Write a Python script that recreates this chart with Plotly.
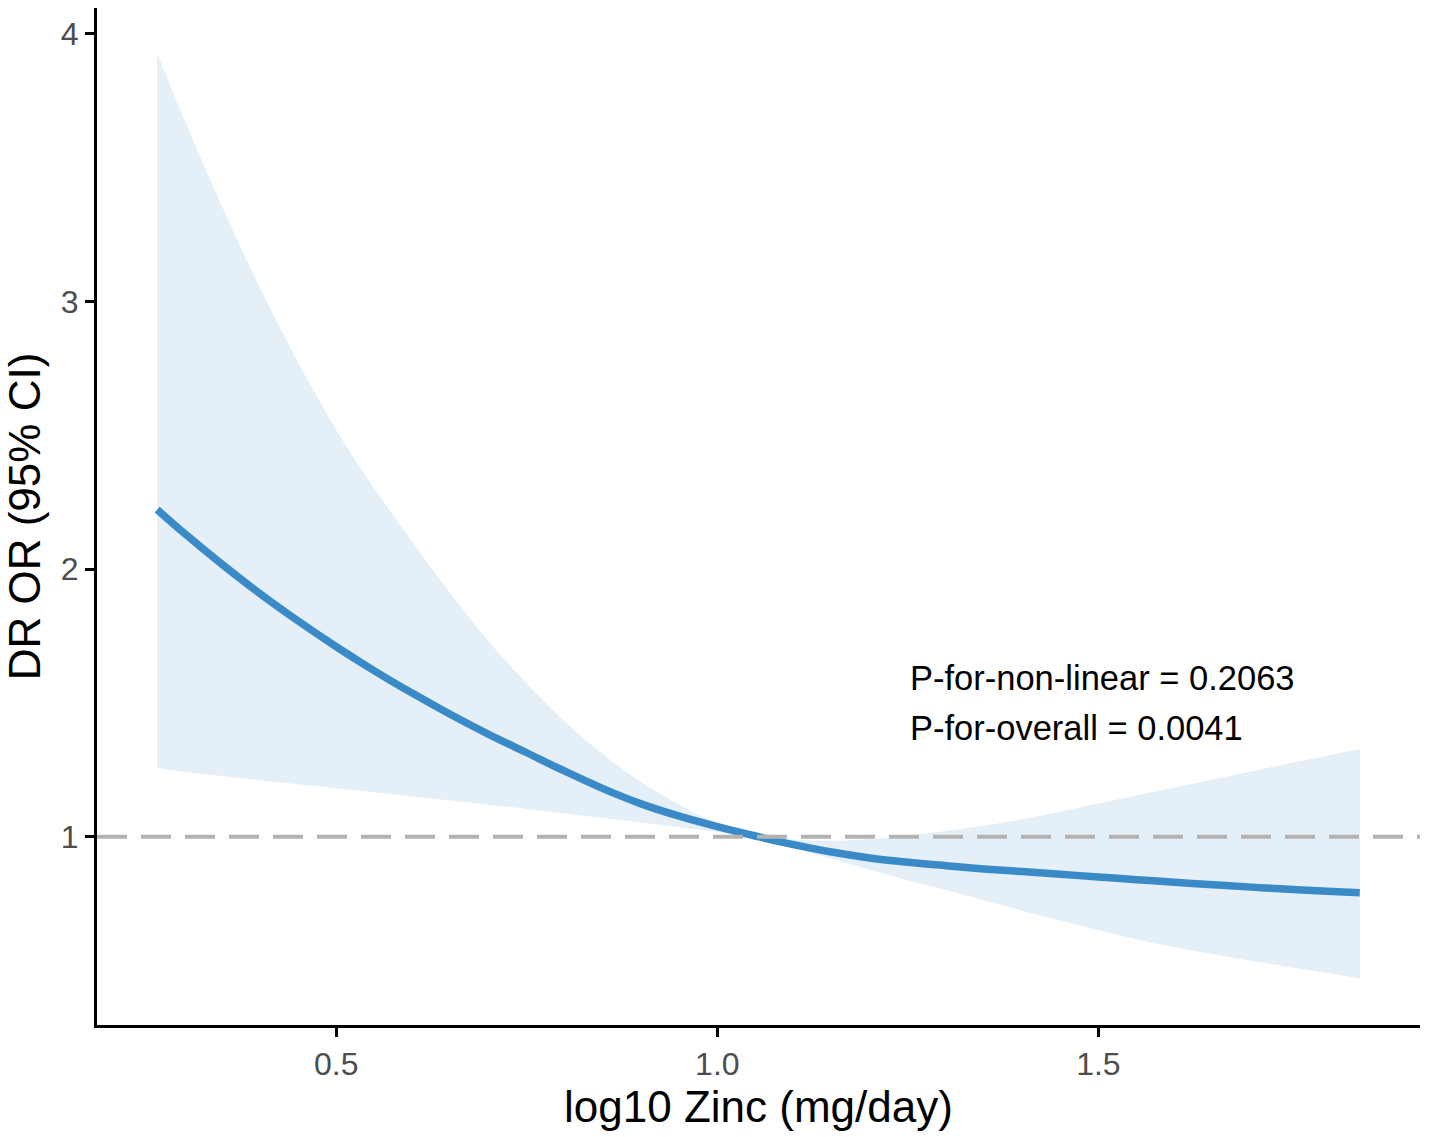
import plotly.graph_objects as go

# Data
x_vals = [0.265, 0.30, 0.35, 0.40, 0.45, 0.50, 0.55, 0.60, 0.65, 0.70, 0.75,
          0.80, 0.85, 0.90, 0.95, 1.00, 1.05, 1.10, 1.15, 1.20, 1.25, 1.30,
          1.35, 1.40, 1.45, 1.50, 1.55, 1.60, 1.65, 1.70, 1.75, 1.80, 1.843]
or_vals = [2.222, 2.135, 2.018, 1.908, 1.806, 1.710, 1.620, 1.536, 1.457, 1.383, 1.314,
           1.245, 1.180, 1.123, 1.077, 1.038, 1.003, 0.971, 0.943, 0.921, 0.905, 0.892,
           0.880, 0.870, 0.860, 0.850, 0.840, 0.830, 0.821, 0.812, 0.804, 0.797, 0.791]
upper_vals = [3.925, 3.683, 3.355, 3.050, 2.772, 2.520, 2.300, 2.100, 1.908, 1.730, 1.573,
              1.430, 1.308, 1.205, 1.120, 1.050, 1.006, 0.989, 0.985, 0.992, 1.005, 1.022,
              1.042, 1.066, 1.094, 1.124, 1.154, 1.184, 1.214, 1.244, 1.274, 1.303, 1.328]
lower_vals = [1.257, 1.243, 1.227, 1.211, 1.196, 1.181, 1.166, 1.151, 1.136, 1.120, 1.104,
              1.087, 1.070, 1.053, 1.036, 1.018, 0.993, 0.958, 0.918, 0.877, 0.838, 0.800,
              0.762, 0.724, 0.687, 0.651, 0.617, 0.587, 0.561, 0.537, 0.514, 0.492, 0.470]

x_ticks = [0.5, 1.0, 1.5]
x_tick_labels = ["0.5", "1.0", "1.5"]
y_ticks = [1, 2, 3, 4]
y_tick_labels = ["1", "2", "3", "4"]
ref_line = 1
annot_lines = ["P-for-non-linear = 0.2063", "P-for-overall = 0.0041"]
annot_x = 1.25
annot_y = [1.593, 1.407]

FONT = "Liberation Sans, Arial, sans-serif"
FILL = "#E4EFF8"

fig = go.Figure()

# CI ribbon: lower bound then upper bound filled to it
fig.add_trace(go.Scatter(
    x=x_vals, y=lower_vals, mode="lines",
    line=dict(width=0, color=FILL, shape="spline", smoothing=1.0),
    hoverinfo="skip", showlegend=False,
))
fig.add_trace(go.Scatter(
    x=x_vals, y=upper_vals, mode="lines",
    fill="tonexty", fillcolor=FILL,
    line=dict(width=0, color=FILL, shape="spline", smoothing=1.0),
    hoverinfo="skip", showlegend=False,
))

# Reference line
fig.add_shape(type="line", xref="paper", yref="y", x0=0, x1=1, y0=ref_line, y1=ref_line,
              line=dict(color="#B3B3B3", width=4, dash="30px,14px"), layer="above")

# Curve
fig.add_trace(go.Scatter(
    x=x_vals, y=or_vals, mode="lines",
    line=dict(color="#3A8AC8", width=7.5, shape="spline", smoothing=1.0),
    showlegend=False,
))

for txt, yy in zip(annot_lines, annot_y):
    fig.add_annotation(x=annot_x, y=yy, text=txt, showarrow=False,
                       xanchor="left", yanchor="middle",
                       font=dict(family=FONT, size=34.5, color="#000000"))

fig.update_layout(
    width=1429, height=1137,
    margin=dict(l=97, r=9, t=8, b=112),
    plot_bgcolor="white", paper_bgcolor="white",
    font=dict(family=FONT),
    showlegend=False,
)

fig.update_xaxes(
    range=[0.186, 1.922], tickvals=x_ticks, ticktext=x_tick_labels,
    showgrid=False, zeroline=False, automargin=False,
    showline=True, linecolor="black", linewidth=3,
    ticks="outside", ticklen=9, tickwidth=3, tickcolor="black",
    tickfont=dict(family=FONT, size=32, color="#4D4D4D"),
    title=dict(text="log10 Zinc (mg/day)", font=dict(family=FONT, size=44, color="black"), standoff=6),
)
fig.update_yaxes(
    range=[0.297, 4.096], tickvals=y_ticks, ticktext=y_tick_labels,
    showgrid=False, zeroline=False, automargin=False,
    showline=True, linecolor="black", linewidth=3,
    ticks="outside", ticklen=9, tickwidth=3, tickcolor="black",
    tickfont=dict(family=FONT, size=32, color="#4D4D4D"),
    title=dict(text="DR OR (95% CI)", font=dict(family=FONT, size=44, color="black"), standoff=14),
)

fig.write_html("out.html", config={"displayModeBar": False},
               post_script="document.body.style.margin='0px';")
